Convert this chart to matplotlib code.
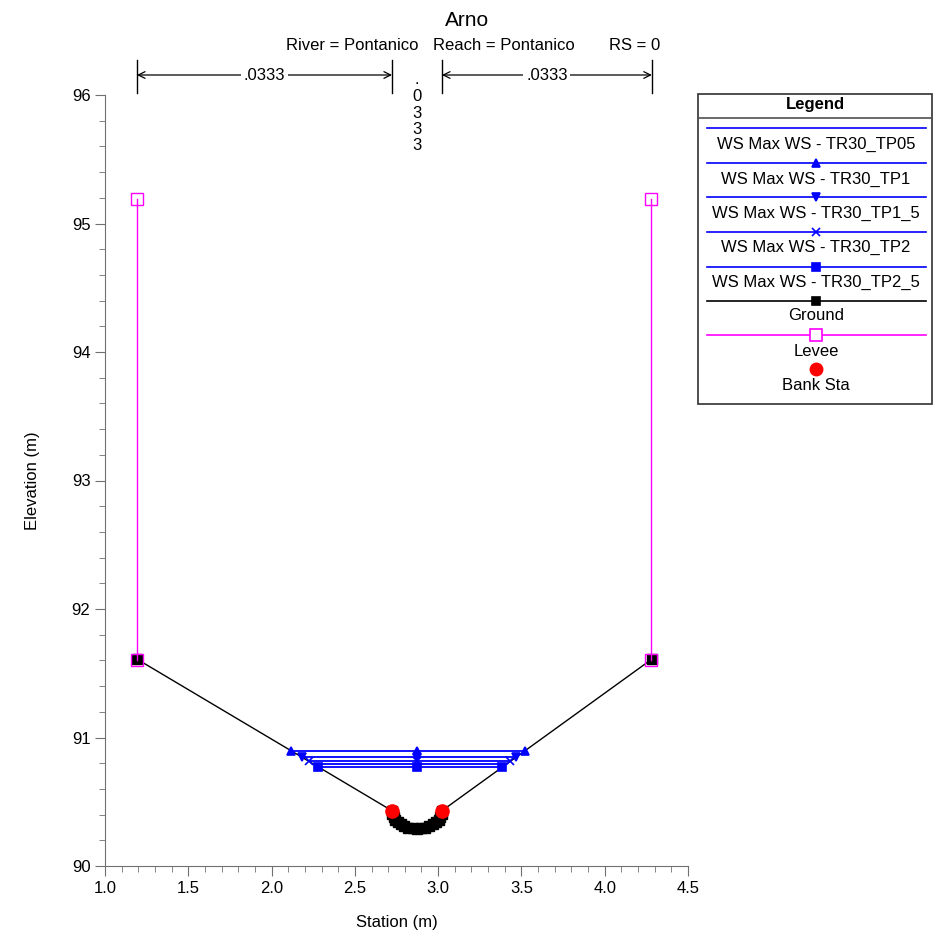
import matplotlib
matplotlib.use('Agg')
import matplotlib.pyplot as plt
import matplotlib.transforms as mtransforms
from matplotlib.patches import Rectangle
from matplotlib.ticker import MultipleLocator, FormatStrFormatter

plt.rcParams['font.family'] = ['Liberation Sans', 'DejaVu Sans']

# sezione Arno - Pontanico, RS = 0
ground_sta = [1.192, 2.723, 2.725, 2.732, 2.743, 2.758, 2.777, 2.798, 2.822, 2.847, 2.873,
              2.899, 2.924, 2.948, 2.969, 2.988, 3.003, 3.014, 3.021, 3.023, 4.283]
ground_elev = [91.61, 90.43, 90.406, 90.382, 90.36, 90.34, 90.323, 90.309, 90.298, 90.292, 90.29,
               90.292, 90.298, 90.309, 90.323, 90.34, 90.36, 90.382, 90.406, 90.43, 91.61]

levee_sta = [1.195, 4.275]
levee_bottom = [91.60, 91.60]
levee_top = [95.19, 95.19]

bank_sta = [2.723, 3.023]
bank_elev = [90.43, 90.43]

ws_labels = ['WS Max WS - TR30_TP05', 'WS Max WS - TR30_TP1', 'WS Max WS - TR30_TP1_5',
             'WS Max WS - TR30_TP2', 'WS Max WS - TR30_TP2_5']
ws_elev = [90.79, 90.895, 90.845, 90.815, 90.77]
ws_left = [2.256, 2.119, 2.184, 2.223, 2.281]
ws_right = [3.407, 3.519, 3.466, 3.434, 3.386]
ws_mid = 2.873
ws_markers = ['', '^', 'v', 'x', 's']

n_breaks = [1.192, 2.723, 3.023, 4.283]
n_values = ['.0333', '.0333', '.0333']

fig = plt.figure(figsize=(9.34, 9.35), dpi=100)
ax = fig.add_axes([105 / 934, 1 - 866 / 935, 583 / 934, 771 / 935])

# terreno
ax.plot(ground_sta, ground_elev, color='black', lw=1, marker='s', ms=7, zorder=3)
# argini
for s, b, t in zip(levee_sta, levee_bottom, levee_top):
    ax.plot([s, s], [b, t], color='magenta', lw=1, marker='s', ms=8, mfc='none', mew=1, zorder=4)
# pelo libero
for el, xl, xr, m in zip(ws_elev, ws_left, ws_right, ws_markers):
    ax.plot([xl, ws_mid, xr], [el, el, el], color='blue', lw=1.3,
            marker=m if m else None, ms=6, mew=1.2, zorder=5)
# sponde
ax.plot(bank_sta, bank_elev, ls='none', marker='o', ms=9.5, color='red', zorder=6)

ax.set_xlim(1.0, 4.5)
ax.set_ylim(90, 96)
ax.xaxis.set_major_locator(MultipleLocator(0.5))
ax.xaxis.set_minor_locator(MultipleLocator(0.1))
ax.yaxis.set_major_locator(MultipleLocator(1))
ax.yaxis.set_minor_locator(MultipleLocator(0.2))
ax.xaxis.set_major_formatter(FormatStrFormatter('%.1f'))
ax.spines['top'].set_visible(False)
ax.spines['right'].set_visible(False)
for sp in ['left', 'bottom']:
    ax.spines[sp].set_color('#707070')
ax.tick_params(which='major', direction='out', length=7, color='#707070', labelsize=12)
ax.tick_params(which='minor', direction='out', length=4, color='#707070')
ax.set_xlabel('Station (m)', fontsize=12, labelpad=14)
ax.set_ylabel('Elevation (m)', fontsize=12, labelpad=23)

# intestazione
fig.text(467 / 934, 1 - 20 / 935, 'Arno', fontsize=15, ha='center', va='center')
fig.text(418 / 934, 1 - 45 / 935, 'River = Pontanico', fontsize=12, ha='right', va='center')
fig.text(433 / 934, 1 - 45 / 935, 'Reach = Pontanico', fontsize=12, ha='left', va='center')
fig.text(660 / 934, 1 - 45 / 935, 'RS = 0', fontsize=12, ha='right', va='center')

# coefficienti di Manning
trans = mtransforms.blended_transform_factory(ax.transData, fig.transFigure)
y_bar0, y_bar1, y_arr = 1 - 93 / 935, 1 - 60 / 935, 1 - 75 / 935
for xb in n_breaks:
    ax.plot([xb, xb], [y_bar0, y_bar1], color='black', lw=1, transform=trans, clip_on=False)
for i, nv in enumerate(n_values):
    x0, x1 = n_breaks[i], n_breaks[i + 1]
    if i == 1:
        # testo verticale, un carattere per riga
        for k, ch in enumerate(nv):
            ax.text((x0 + x1) / 2, 1 - (80 + 16.5 * k) / 935, ch, transform=trans, fontsize=12,
                    ha='center', va='center')
        continue
    ax.annotate('', xy=(x0, y_arr), xytext=(x1, y_arr), xycoords=trans, textcoords=trans,
                arrowprops=dict(arrowstyle='<->', lw=0.9, color='black',
                                shrinkA=0, shrinkB=0, mutation_scale=12))
    ax.text((x0 + x1) / 2, y_arr, nv, transform=trans, fontsize=12, ha='center', va='center',
            bbox=dict(facecolor='white', edgecolor='none', pad=2))

# legenda
lx0, lx1, ly0, ly1 = 698, 932, 94, 404
lg = fig.add_axes([lx0 / 934, 1 - ly1 / 935, (lx1 - lx0) / 934, (ly1 - ly0) / 935])
lg.set_xlim(lx0, lx1)
lg.set_ylim(ly1, ly0)
lg.axis('off')
lg.add_patch(Rectangle((0, 0), 1, 1, transform=lg.transAxes, fill=False,
                       edgecolor='#303030', lw=1.2, clip_on=False))
lg.plot([lx0, lx1], [118, 118], color='#505050', lw=1.2)
lg.text((lx0 + lx1) / 2, 105, 'Legend', fontsize=12, fontweight='bold', ha='center', va='center')

leg_labels = ws_labels + ['Ground', 'Levee', 'Bank Sta']
leg_colors = ['blue'] * 5 + ['black', 'magenta', 'red']
leg_markers = ws_markers + ['s', 's', 'o']
line_y = [128, 162.5, 197, 231.5, 266.5, 301, 335, 369]
text_y = [144.5, 179, 213, 247.5, 282, 316, 351, 385]
xm = 816
for i, (lab, c, m) in enumerate(zip(leg_labels, leg_colors, leg_markers)):
    if lab != 'Bank Sta':
        lg.plot([707, 926], [line_y[i], line_y[i]], color=c, lw=1.2)
    if m:
        if lab == 'Levee':
            lg.plot([xm], [line_y[i]], marker='s', ms=8.5, mfc='white', mec=c, mew=1.2)
        elif lab == 'Bank Sta':
            lg.plot([xm], [line_y[i]], marker='o', ms=9, color=c)
        else:
            lg.plot([xm], [line_y[i]], marker=m, ms=5.5, color=c, mew=1.2)
    lg.text(xm, text_y[i], lab, fontsize=12, ha='center', va='center')

fig.savefig('out.png', dpi=100)
